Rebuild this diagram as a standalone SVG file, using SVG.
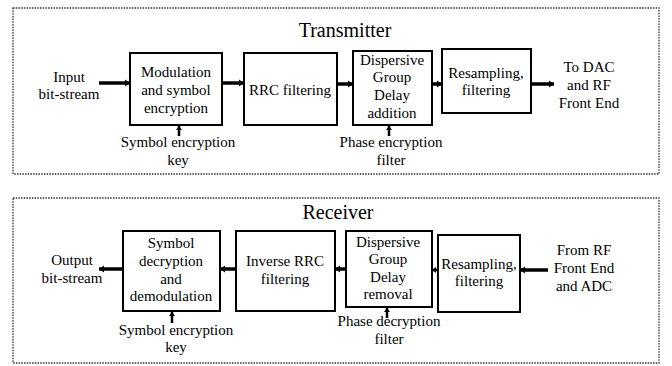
<svg xmlns="http://www.w3.org/2000/svg" width="672" height="366" viewBox="0 0 672 366">
<defs>
<style>
.frame{fill:none;stroke:#333;stroke-width:1.3;stroke-dasharray:1.5 1.2}
.box{fill:#fff;stroke:#000;stroke-width:2}
.t{font-family:"Liberation Serif","Times New Roman",serif;font-size:15px;fill:#000;text-anchor:middle}
.title{font-family:"Liberation Serif","Times New Roman",serif;font-size:20px;fill:#000;text-anchor:middle}
.c{stroke:#000;stroke-width:3.5;fill:none;marker-end:url(#ah)}
.cs{stroke:#000;stroke-width:2.5;fill:none;marker-end:url(#ahs)}
</style>
<marker id="ah" markerUnits="userSpaceOnUse" markerWidth="6" markerHeight="8" refX="5" refY="4" orient="auto">
<path d="M0,0.5 L5,4 L0,7.5 z" fill="#000"/>
</marker>
<marker id="ahs" markerUnits="userSpaceOnUse" markerWidth="6" markerHeight="7" refX="4" refY="3.5" orient="auto">
<path d="M0,0.5 L4,3.5 L0,6.5 z" fill="#000"/>
</marker>
</defs>
<rect class="frame" x="13" y="8" width="646" height="166"/>
<rect class="frame" x="13" y="198" width="646" height="165"/>
<text class="title" x="345" y="37">Transmitter</text>
<text class="title" x="338" y="219">Receiver</text>

<g id="tx-input"><text class="t" x="69" y="82">Input</text><text class="t" x="69" y="99">bit-stream</text></g>
<g id="tx-mod"><rect class="box" x="130" y="53" width="92" height="72"/><text class="t" x="176" y="77">Modulation</text><text class="t" x="176" y="95">and symbol</text><text class="t" x="176" y="113">encryption</text></g>
<g id="tx-key"><text class="t" x="178" y="147">Symbol encryption</text><text class="t" x="178" y="165">key</text></g>
<g id="tx-rrc"><rect class="box" x="244" y="53" width="93" height="72"/><text class="t" x="290" y="95">RRC filtering</text></g>
<g id="tx-dgd"><rect class="box" x="353" y="51" width="79" height="74"/><text class="t" x="392" y="65">Dispersive</text><text class="t" x="392" y="82">Group</text><text class="t" x="392" y="100">Delay</text><text class="t" x="392" y="118">addition</text></g>
<g id="tx-phase"><text class="t" x="391" y="147">Phase encryption</text><text class="t" x="391" y="165">filter</text></g>
<g id="tx-resamp"><rect class="box" x="442" y="49" width="89" height="64"/><text class="t" x="486" y="78">Resampling,</text><text class="t" x="486" y="95">filtering</text></g>
<g id="tx-out"><text class="t" x="589" y="72">To DAC</text><text class="t" x="589" y="90">and RF</text><text class="t" x="589" y="108">Front End</text></g>

<g id="rx-out"><text class="t" x="72" y="265">Output</text><text class="t" x="72" y="283">bit-stream</text></g>
<g id="rx-sym"><rect class="box" x="123" y="231" width="97" height="80"/><text class="t" x="171" y="248">Symbol</text><text class="t" x="171" y="266">decryption</text><text class="t" x="171" y="284">and</text><text class="t" x="171" y="301">demodulation</text></g>
<g id="rx-key"><text class="t" x="176" y="335">Symbol encryption</text><text class="t" x="176" y="352">key</text></g>
<g id="rx-rrc"><rect class="box" x="236" y="231" width="99" height="80"/><text class="t" x="285" y="266">Inverse RRC</text><text class="t" x="285" y="284">filtering</text></g>
<g id="rx-dgd"><rect class="box" x="346" y="231" width="86" height="76"/><text class="t" x="388" y="247">Dispersive</text><text class="t" x="388" y="264">Group</text><text class="t" x="388" y="282">Delay</text><text class="t" x="388" y="299">removal</text></g>
<g id="rx-phase"><text class="t" x="389" y="326">Phase decryption</text><text class="t" x="389" y="344">filter</text></g>
<g id="rx-resamp"><rect class="box" x="438" y="235" width="82" height="77"/><text class="t" x="479" y="269">Resampling,</text><text class="t" x="479" y="286">filtering</text></g>
<g id="rx-in"><text class="t" x="584" y="255">From RF</text><text class="t" x="584" y="273">Front End</text><text class="t" x="584" y="291">and ADC</text></g>

<g id="connectors">
<line class="c" x1="99" y1="83" x2="130" y2="83"/>
<line class="c" x1="222" y1="83" x2="244" y2="83"/>
<line class="c" x1="337" y1="84" x2="353" y2="84"/>
<line class="c" x1="432" y1="84" x2="442" y2="84"/>
<line class="c" x1="531" y1="84" x2="554" y2="84"/>
<line class="cs" x1="179" y1="136" x2="179" y2="126"/>
<line class="cs" x1="389" y1="136" x2="389" y2="126"/>
<line class="c" x1="548" y1="270" x2="520" y2="270"/>
<line class="cs" x1="438" y1="270" x2="432" y2="270"/>
<line class="c" x1="346" y1="269" x2="335" y2="269"/>
<line class="c" x1="236" y1="269" x2="220" y2="269"/>
<line class="c" x1="123" y1="269" x2="99" y2="269"/>
<line class="cs" x1="172" y1="323" x2="172" y2="312"/>
<line class="cs" x1="387" y1="318" x2="387" y2="308"/>
</g>
</svg>
